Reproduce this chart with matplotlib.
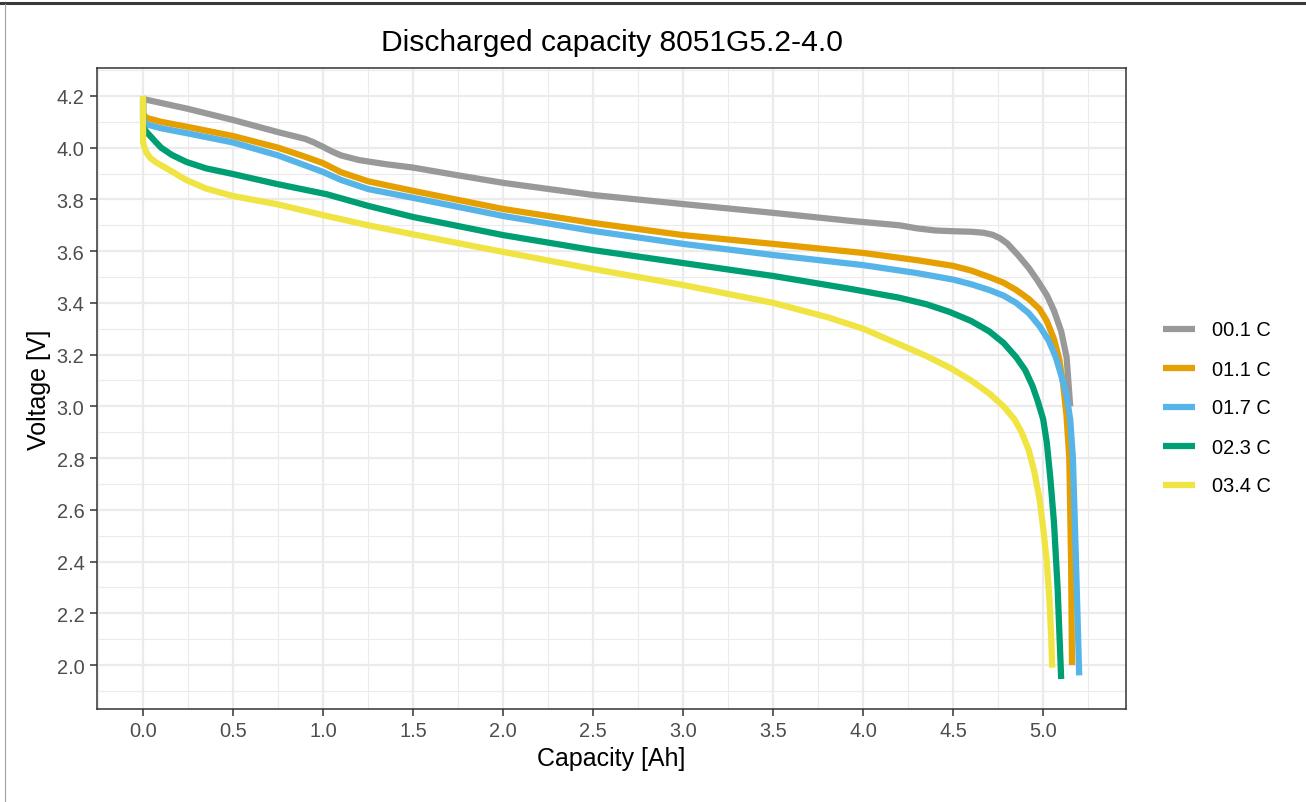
import matplotlib
matplotlib.use("Agg")
import matplotlib.pyplot as plt
from matplotlib.lines import Line2D
from matplotlib.ticker import MultipleLocator

plt.rcParams['font.family'] = ['Liberation Sans', 'DejaVu Sans']

# discharge curves (capacity [Ah], voltage [V])
cap_01 = [0, 0.02, 0.25, 0.5, 0.75, 0.9, 0.95, 1.0, 1.05, 1.1, 1.2, 1.35, 1.5, 1.75,
          2.0, 2.5, 3.0, 3.5, 3.93, 4.2, 4.3, 4.4, 4.5, 4.6, 4.67, 4.72, 4.76, 4.8,
          4.86, 4.92, 4.97, 5.02, 5.06, 5.1, 5.13, 5.15]
volt_01 = [4.19, 4.185, 4.15, 4.107, 4.06, 4.034, 4.02, 4.003, 3.985, 3.97, 3.952,
           3.936, 3.923, 3.893, 3.864, 3.817, 3.782, 3.748, 3.717, 3.70, 3.688, 3.68,
           3.677, 3.675, 3.671, 3.663, 3.65, 3.63, 3.585, 3.535, 3.485, 3.43, 3.37,
           3.29, 3.19, 3.0]

cap_11 = [0, 0.0, 0.02, 0.1, 0.25, 0.5, 0.75, 0.9, 1.0, 1.1, 1.25, 1.5, 2.0, 2.5, 3.0,
          3.5, 4.0, 4.3, 4.5, 4.6, 4.7, 4.78, 4.85, 4.92, 4.98, 5.02, 5.06, 5.09, 5.11,
          5.13, 5.145, 5.155, 5.16]
volt_11 = [4.19, 4.13, 4.115, 4.10, 4.08, 4.045, 4.0, 3.965, 3.94, 3.905, 3.87, 3.833,
           3.763, 3.709, 3.662, 3.628, 3.593, 3.565, 3.543, 3.525, 3.5, 3.478, 3.45,
           3.415, 3.376, 3.33, 3.26, 3.18, 3.09, 2.96, 2.8, 2.4, 2.0]

cap_17 = [0, 0.0, 0.02, 0.1, 0.25, 0.5, 0.75, 1.0, 1.1, 1.25, 1.5, 2.0, 2.5, 3.0, 3.5,
          4.0, 4.3, 4.5, 4.6, 4.7, 4.78, 4.85, 4.92, 4.98, 5.03, 5.07, 5.1, 5.13, 5.15,
          5.165, 5.18, 5.2]
volt_17 = [4.19, 4.11, 4.09, 4.075, 4.055, 4.02, 3.97, 3.906, 3.875, 3.84, 3.806, 3.736,
           3.678, 3.628, 3.585, 3.546, 3.515, 3.49, 3.472, 3.45, 3.428, 3.4, 3.36, 3.31,
           3.255, 3.19, 3.12, 3.04, 2.95, 2.8, 2.45, 1.96]

cap_23 = [0, 0.0, 0.005, 0.02, 0.04, 0.07, 0.1, 0.16, 0.24, 0.35, 0.5, 0.74, 1.02, 1.25,
          1.5, 2.0, 2.5, 3.0, 3.5, 3.93, 4.2, 4.35, 4.48, 4.6, 4.7, 4.78, 4.85, 4.9, 4.94,
          4.97, 5.0, 5.02, 5.04, 5.06, 5.08, 5.1]
volt_23 = [4.19, 4.09, 4.075, 4.06, 4.045, 4.022, 4.0, 3.972, 3.945, 3.92, 3.898, 3.86,
           3.82, 3.775, 3.732, 3.662, 3.604, 3.554, 3.504, 3.454, 3.42, 3.395, 3.365,
           3.33, 3.29, 3.245, 3.19, 3.14, 3.08, 3.02, 2.95, 2.86, 2.72, 2.55, 2.3, 1.946]

cap_34 = [0, 0.0, 0.01, 0.02, 0.04, 0.07, 0.11, 0.16, 0.24, 0.35, 0.5, 0.74, 1.02, 1.25,
          1.5, 2.0, 2.5, 3.0, 3.5, 3.8, 4.0, 4.2, 4.35, 4.48, 4.6, 4.7, 4.78, 4.84, 4.88,
          4.92, 4.95, 4.98, 5.0, 5.02, 5.035, 5.045, 5.05]
volt_34 = [4.2, 4.02, 3.995, 3.98, 3.96, 3.944, 3.928, 3.908, 3.875, 3.842, 3.813, 3.782,
           3.736, 3.70, 3.665, 3.597, 3.531, 3.469, 3.40, 3.345, 3.30, 3.24, 3.195, 3.15,
           3.1, 3.05, 3.0, 2.95, 2.9, 2.83, 2.75, 2.64, 2.53, 2.4, 2.25, 2.1, 1.99]

labels = ['00.1 C', '01.1 C', '01.7 C', '02.3 C', '03.4 C']
colors = ['#999999', '#E69F00', '#56B4E9', '#009E73', '#F0E442']
series = [(cap_01, volt_01), (cap_11, volt_11), (cap_17, volt_17),
          (cap_23, volt_23), (cap_34, volt_34)]

fig = plt.figure(figsize=(13.06, 8.03), dpi=100)
ax = fig.add_axes([97 / 1306, 1 - 710 / 803, (1126 - 97) / 1306, (710 - 69) / 803])

handles = []
for (c, v), lab, col in zip(series, labels, colors):
    h, = ax.plot(c, v, color=col, lw=4.5, solid_capstyle='butt',
                 solid_joinstyle='round', label=lab, zorder=3)
    handles.append(h)

ax.set_xlim(-0.256, 5.46)
ax.set_ylim(1.83, 4.308)
ax.xaxis.set_major_locator(MultipleLocator(0.5))
ax.xaxis.set_minor_locator(MultipleLocator(0.25))
ax.yaxis.set_major_locator(MultipleLocator(0.2))
ax.yaxis.set_minor_locator(MultipleLocator(0.1))
ax.xaxis.set_major_formatter(lambda x, p: f'{x:.1f}')
ax.yaxis.set_major_formatter(lambda y, p: f'{y:.1f}')

ax.grid(which='major', color='#EBEBEB', lw=1.6, zorder=0)
ax.grid(which='minor', color='#EBEBEB', lw=0.8, zorder=0)
ax.set_axisbelow(True)
ax.tick_params(which='major', length=5, width=1.1, color='#333333',
               labelsize=14.4, labelcolor='#4D4D4D', pad=4)
ax.tick_params(which='minor', length=0)
for s in ax.spines.values():
    s.set_color('#333333')
    s.set_linewidth(1.1)

ax.set_xlabel('Capacity [Ah]', fontsize=18, labelpad=4)
ax.set_ylabel('Voltage [V]', fontsize=18, labelpad=4)
ax.set_title('Discharged capacity 8051G5.2-4.0', fontsize=21.6, pad=13)

fig.legend(handles=handles, loc='center left', bbox_to_anchor=(1163 / 1306, 1 - 409 / 803),
           frameon=False, fontsize=14.4, handlelength=1.6, handletextpad=0.85,
           labelspacing=1.0, borderpad=0, borderaxespad=0)

# screenshot frame lines
fig.add_artist(Line2D([0, 1], [1 - 4 / 803, 1 - 4 / 803], transform=fig.transFigure,
                      color='#3A3A3A', lw=2.2))
fig.add_artist(Line2D([4.5 / 1306, 4.5 / 1306], [0, 1 - 5 / 803], transform=fig.transFigure,
                      color='#A0A0A0', lw=0.8))

fig.savefig('out.png', dpi=100)
